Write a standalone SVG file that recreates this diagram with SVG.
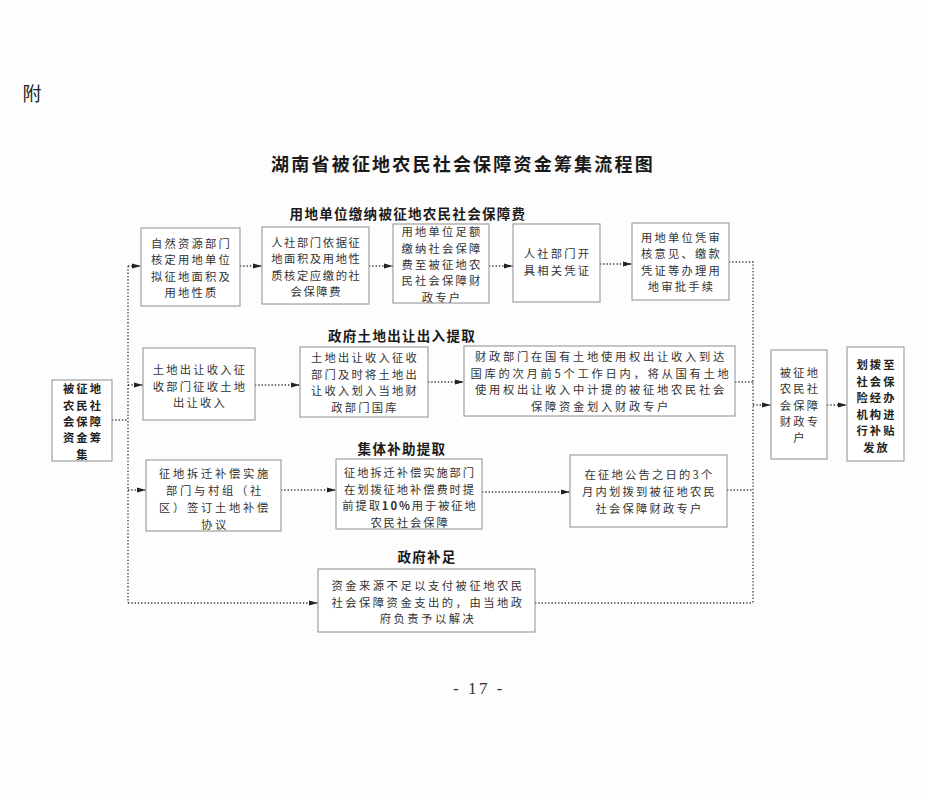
<svg xmlns="http://www.w3.org/2000/svg" width="928" height="794" viewBox="0 0 928 794">
<defs>
<style>
.bg{fill:#fdfdfd}
.box{fill:#ffffff;stroke:#a0a0a0;stroke-width:1.2}
.t{font-family:"Noto Sans CJK SC","Noto Sans",sans-serif;font-size:11.3px;fill:#333;text-anchor:middle;dominant-baseline:central;letter-spacing:2.2px}
.tb{font-family:"Noto Sans CJK SC","Noto Sans",sans-serif;font-size:11.3px;font-weight:bold;fill:#222;text-anchor:middle;dominant-baseline:central;letter-spacing:2px}
.lbl{font-family:"Noto Sans CJK SC","Noto Sans",sans-serif;font-size:13.5px;font-weight:bold;fill:#1a1a1a;text-anchor:middle;dominant-baseline:central;letter-spacing:1.3px}
.title{font-family:"Noto Sans CJK SC","Noto Sans",sans-serif;font-size:18px;font-weight:bold;fill:#1a1a1a;text-anchor:middle;dominant-baseline:central;letter-spacing:2.2px}
.c{fill:none;stroke:#333;stroke-width:1.3;stroke-dasharray:1.3 2}
</style>
<marker id="arr" markerWidth="9" markerHeight="6" refX="9" refY="3" orient="auto" markerUnits="userSpaceOnUse">
<path d="M0,0.5 L9,3 L0,5.5 z" fill="#222"/>
</marker>
</defs>
<rect class="bg" x="0" y="0" width="928" height="794"/>

<text x="32" y="92" style="font-family:'Noto Sans CJK SC',sans-serif;font-size:19px;fill:#222;text-anchor:middle;dominant-baseline:central">附</text>
<text class="title" x="463" y="163">湖南省被征地农民社会保障资金筹集流程图</text>

<g id="labels">
<text class="lbl" x="408" y="213">用地单位缴纳被征地农民社会保障费</text>
<text class="lbl" x="402" y="335">政府土地出让出入提取</text>
<text class="lbl" x="402" y="448">集体补助提取</text>
<text class="lbl" x="427" y="556">政府补足</text>
</g>

<g id="connectors">
<path class="c" d="M112,420 H128"/>
<path class="c" d="M128,266 V603"/>
<path class="c" d="M128,266 H141" marker-end="url(#arr)"/>
<path class="c" d="M128,385 H143" marker-end="url(#arr)"/>
<path class="c" d="M128,490 H146" marker-end="url(#arr)"/>
<path class="c" d="M128,603 H318" marker-end="url(#arr)"/>
<path class="c" d="M240,266 H262" marker-end="url(#arr)"/>
<path class="c" d="M369,266 H393" marker-end="url(#arr)"/>
<path class="c" d="M489,266 H513" marker-end="url(#arr)"/>
<path class="c" d="M600,264 H632" marker-end="url(#arr)"/>
<path class="c" d="M729,262 H753 V603"/>
<path class="c" d="M255,385 H300" marker-end="url(#arr)"/>
<path class="c" d="M428,382 H464" marker-end="url(#arr)"/>
<path class="c" d="M735,382 H753"/>
<path class="c" d="M281,490 H336" marker-end="url(#arr)"/>
<path class="c" d="M482,492 H570" marker-end="url(#arr)"/>
<path class="c" d="M727,490 H753"/>
<path class="c" d="M535,603 H753"/>
<path class="c" d="M753,405 H771" marker-end="url(#arr)"/>
<path class="c" d="M827,405 H847" marker-end="url(#arr)"/>
</g>

<g id="n-source">
<rect class="box" x="52" y="380" width="60" height="81"/>
<text class="tb"><tspan x="83" y="388.2">被征地</tspan><tspan x="83" y="404.6">农民社</tspan><tspan x="83" y="421">会保障</tspan><tspan x="83" y="437.4">资金筹</tspan><tspan x="83" y="453.8">集</tspan></text>
</g>

<g id="n-r1-1">
<rect class="box" x="141" y="228" width="99" height="78"/>
<text class="t"><tspan x="191.5" y="242.75">自然资源部门</tspan><tspan x="191.5" y="259.25">核定用地单位</tspan><tspan x="191.5" y="275.75">拟征地面积及</tspan><tspan x="191.5" y="292.25">用地性质</tspan></text>
</g>
<g id="n-r1-2">
<rect class="box" x="262" y="227" width="107" height="77"/>
<text class="t" style="letter-spacing:1.6px"><tspan x="316.3" y="241.5">人社部门依据征</tspan><tspan x="316.3" y="258">地面积及用地性</tspan><tspan x="316.3" y="274.5">质核定应缴的社</tspan><tspan x="316.3" y="291">会保障费</tspan></text>
</g>
<g id="n-r1-3">
<rect class="box" x="393" y="224" width="96" height="79"/>
<text class="t"><tspan x="442" y="231.2">用地单位足额</tspan><tspan x="442" y="247.6">缴纳社会保障</tspan><tspan x="442" y="264">费至被征地农</tspan><tspan x="442" y="280.4">民社会保障财</tspan><tspan x="442" y="296.8">政专户</tspan></text>
</g>
<g id="n-r1-4">
<rect class="box" x="513" y="224" width="87" height="78"/>
<text class="t"><tspan x="557.5" y="253">人社部门开</tspan><tspan x="557.5" y="270">具相关凭证</tspan></text>
</g>
<g id="n-r1-5">
<rect class="box" x="632" y="223" width="97" height="77"/>
<text class="t"><tspan x="681.5" y="236.5">用地单位凭审</tspan><tspan x="681.5" y="253">核意见、缴款</tspan><tspan x="681.5" y="269.5">凭证等办理用</tspan><tspan x="681.5" y="286">地审批手续</tspan></text>
</g>

<g id="n-r2-1">
<rect class="box" x="143" y="348" width="112" height="72"/>
<text class="t"><tspan x="200" y="369">土地出让收入征</tspan><tspan x="200" y="385.5">收部门征收土地</tspan><tspan x="200" y="402">出让收入</tspan></text>
</g>
<g id="n-r2-2">
<rect class="box" x="300" y="347" width="128" height="70"/>
<text class="t"><tspan x="365" y="357.25">土地出让收入征收</tspan><tspan x="365" y="373.75">部门及时将土地出</tspan><tspan x="365" y="390.25">让收入划入当地财</tspan><tspan x="365" y="406.75">政部门国库</tspan></text>
</g>
<g id="n-r2-3">
<rect class="box" x="464" y="346" width="271" height="70"/>
<text class="t" style="letter-spacing:2.7px"><tspan x="601" y="356.25">财政部门在国有土地使用权出让收入到达</tspan><tspan x="601" y="372.75">国库的次月前5个工作日内，将从国有土地</tspan><tspan x="601" y="389.25">使用权出让收入中计提的被征地农民社会</tspan><tspan x="601" y="405.75">保障资金划入财政专户</tspan></text>
</g>

<g id="n-r3-1">
<rect class="box" x="146" y="460" width="135" height="71"/>
<text class="t" style="letter-spacing:2.7px"><tspan x="215" y="473">征地拆迁补偿实施</tspan><tspan x="215" y="490">部门与村组（社</tspan><tspan x="215" y="507">区）签订土地补偿</tspan><tspan x="215" y="523.5">协议</tspan></text>
</g>
<g id="n-r3-2">
<rect class="box" x="336" y="459" width="146" height="70"/>
<text class="t" style="letter-spacing:1.9px"><tspan x="410" y="472">征地拆迁补偿实施部门</tspan><tspan x="410" y="488.5">在划拨征地补偿费时提</tspan><tspan x="410" y="505">前提取<tspan font-weight="bold">10%</tspan>用于被征地</tspan><tspan x="410" y="521.5">农民社会保障</tspan></text>
</g>
<g id="n-r3-3">
<rect class="box" x="570" y="455" width="157" height="72"/>
<text class="t"><tspan x="649.5" y="474">在征地公告之日的3个</tspan><tspan x="649.5" y="491">月内划拨到被征地农民</tspan><tspan x="649.5" y="508">社会保障财政专户</tspan></text>
</g>

<g id="n-r4-1">
<rect class="box" x="318" y="569" width="217" height="63"/>
<text class="t" style="letter-spacing:2.5px"><tspan x="428" y="585">资金来源不足以支付被征地农民</tspan><tspan x="428" y="601.5">社会保障资金支出的，由当地政</tspan><tspan x="428" y="618">府负责予以解决</tspan></text>
</g>

<g id="n-account">
<rect class="box" x="771" y="350" width="56" height="109"/>
<text class="t"><tspan x="800" y="371.7">被征地</tspan><tspan x="800" y="388.1">农民社</tspan><tspan x="800" y="404.5">会保障</tspan><tspan x="800" y="420.9">财政专</tspan><tspan x="800" y="437.3">户</tspan></text>
</g>
<g id="n-payout">
<rect class="box" x="847" y="347" width="57" height="114"/>
<text class="tb"><tspan x="876.5" y="364.25">划拨至</tspan><tspan x="876.5" y="380.75">社会保</tspan><tspan x="876.5" y="397.25">险经办</tspan><tspan x="876.5" y="413.75">机构进</tspan><tspan x="876.5" y="430.25">行补贴</tspan><tspan x="876.5" y="446.75">发放</tspan></text>
</g>

<text x="479" y="688" style="font-family:'Liberation Serif',serif;font-size:17px;fill:#333;text-anchor:middle;dominant-baseline:central;letter-spacing:2.5px">- 17 -</text>
</svg>
